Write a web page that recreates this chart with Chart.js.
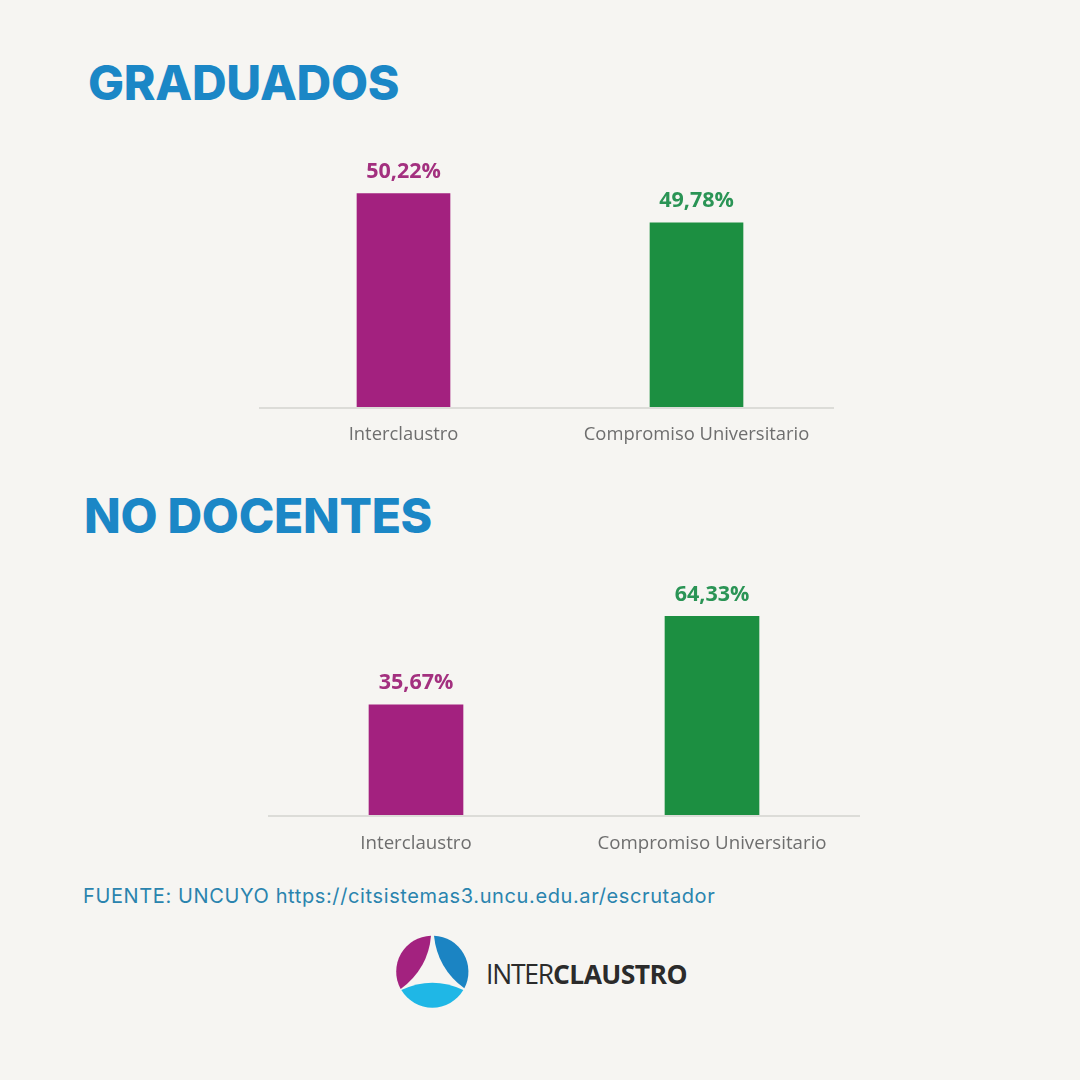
<!DOCTYPE html>
<html lang="es">
<head>
<meta charset="utf-8">
<title>Graduados y No Docentes</title>
<script src="https://cdn.jsdelivr.net/npm/chart.js@4"></script>
<style>
  html, body { margin: 0; padding: 0; background: #f6f5f2; }
  #page { position: relative; width: 1080px; height: 1080px; overflow: hidden; background: #f6f5f2; }
  .title { position: absolute; margin: 0; color: #1b87c6; font: 800 48px Inter, sans-serif; letter-spacing: -0.3px; line-height: 56px; white-space: nowrap; }
  .chart { position: absolute; left: 0; width: 1080px; }
  #source { position: absolute; left: 83px; top: 884px; color: #2a84ae; font: 400 20px Inter, sans-serif; letter-spacing: 0.62px; line-height: 24px; white-space: nowrap; }
  #logo { position: absolute; left: 380px; top: 920px; }
  #logoText { position: absolute; left: 486px; top: 955px; color: #2b2b2b; font: 400 26.5px "Open Sans", sans-serif; line-height: 38px; letter-spacing: -1.2px; white-space: nowrap; }
  #logoText b { font-weight: 700; letter-spacing: -0.6px; }
</style>
</head>
<body>
<div id="page">
  <h1 class="title" style="left:88px;top:55px">GRADUADOS</h1>
  <canvas class="chart" id="graduadosChart" style="top:142px" width="1080" height="318"></canvas>
  <h1 class="title" style="left:84px;top:488px">NO DOCENTES</h1>
  <canvas class="chart" id="noDocentesChart" style="top:568px" width="1080" height="300"></canvas>
  <div id="source">FUENTE: UNCUYO https://citsistemas3.uncu.edu.ar/escrutador</div>
  <svg id="logo" width="320" height="100" viewBox="0 0 960 300">
    <path fill="#a3227f" d="M153 47 A108 108 0 0 0 62 207 Q145 145 153 47 Z"/>
    <path fill="#1b84c3" d="M162 47 A108 108 0 0 1 253 205 Q172 145 162 47 Z"/>
    <path fill="#1fb7e6" d="M64 210 Q157 166 250 210 A108 108 0 0 1 64 210 Z"/>
  </svg>
  <div id="logoText">INTER<b>CLAUSTRO</b></div>
</div>
<script>
const categories = ["Interclaustro", "Compromiso Universitario"];
const graduadosValues = [50.22, 49.78];
const noDocentesValues = [35.67, 64.33];
const barColors = ["#a3217f", "#1c8f41"];
const labelColors = ["#a3307f", "#2a9455"];

const valueLabels = {
  id: "valueLabels",
  afterDatasetsDraw(chart) {
    const { ctx } = chart;
    ctx.save();
    ctx.font = '700 21.5px "Open Sans", sans-serif';
    ctx.textAlign = "center";
    ctx.textBaseline = "middle";
    chart.getDatasetMeta(0).data.forEach((bar, i) => {
      const value = chart.data.datasets[0].data[i];
      ctx.fillStyle = labelColors[i];
      ctx.fillText(value.toFixed(2).replace(".", ",") + "%", bar.x, bar.y - 22);
    });
    ctx.restore();
  },
};

const baseline = {
  id: "baseline",
  beforeDatasetsDraw(chart, args, opts) {
    const { ctx, chartArea } = chart;
    ctx.save();
    ctx.strokeStyle = "#dcdcd8";
    ctx.lineWidth = 2;
    ctx.beginPath();
    ctx.moveTo(chartArea.left + opts.startInset, chartArea.bottom + 1);
    ctx.lineTo(chartArea.right - opts.endInset, chartArea.bottom + 1);
    ctx.stroke();
    ctx.restore();
  },
};

const renderBarChart = (id, values, yMin, yMax, padLeft, padRight, thickness, startInset, endInset, tickSize) => {
  const ctx = document.getElementById(id).getContext("2d");
  new Chart(ctx, {
    type: "bar",
    data: {
      labels: categories,
      datasets: [{ data: values, backgroundColor: barColors, barThickness: thickness }],
    },
    options: {
      responsive: false,
      animation: false,
      layout: { padding: { left: padLeft, right: padRight, top: 0, bottom: 0 } },
      plugins: {
        legend: { display: false },
        tooltip: { enabled: false },
        baseline: { startInset: startInset, endInset: endInset },
      },
      scales: {
        x: {
          grid: { display: false },
          border: { display: false },
          ticks: {
            color: "#6e6e6e",
            font: { family: "'Open Sans', sans-serif", size: tickSize },
            maxRotation: 0,
            padding: 9,
          },
          afterFit: (scale) => { scale.height = 53; },
        },
        y: { display: false, min: yMin, max: yMax },
      },
    },
    plugins: [valueLabels, baseline],
  });
};

renderBarChart("graduadosChart", graduadosValues, 47, 51, 257, 237, 93, 2, 9, 18.4);
renderBarChart("noDocentesChart", noDocentesValues, 0, 80, 268, 220, 94, 0, 0, 18.7);
</script>
</body>
</html>
